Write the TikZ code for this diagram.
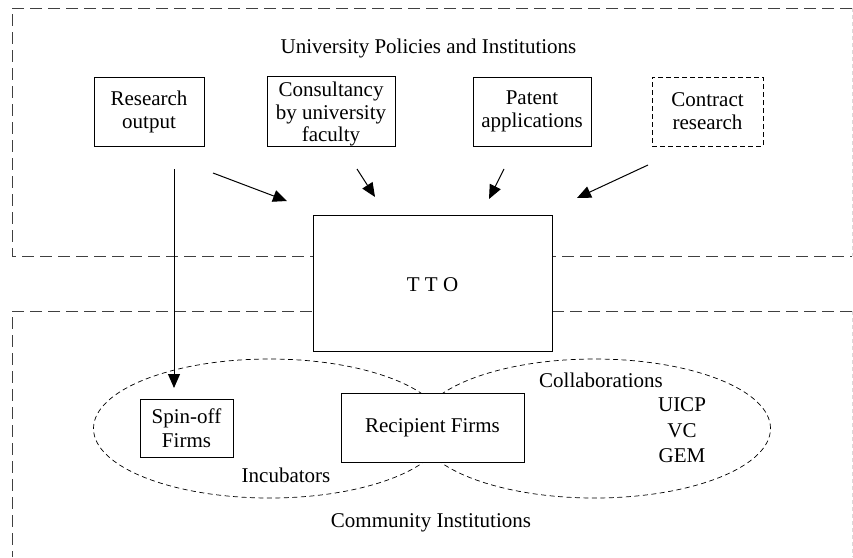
\documentclass[tikz,border=0pt]{standalone}
\usepackage{fontspec}
\setmainfont{Liberation Serif}
\usetikzlibrary{arrows.meta,shapes.geometric}
\begin{document}
\begin{tikzpicture}[x=1pt,y=-1pt,
  every node/.style={font=\fontsize{21}{23}\selectfont},
  region/.style={draw=black!75, line width=0.9pt, dash pattern=on 12pt off 6pt},
  faint/.style={draw=black!15, line width=0.8pt, dash pattern=on 4pt off 3pt},
  zone/.style={draw=black, line width=0.7pt, dash pattern=on 5pt off 3.5pt, ellipse, inner sep=0pt},
  box/.style={draw=black, line width=0.8pt, fill=white, align=center, inner sep=0pt},
  dbox/.style={box, dash pattern=on 5pt off 3pt},
  arr/.style={line width=1pt, -{Triangle[length=14pt,width=12pt]}},
  lbl/.style={inner sep=0pt, anchor=base, align=center}
]
\useasboundingbox (0,0) rectangle (853,557);

% regions
\draw[region] (852,8) -- (12,8) -- (12,256) -- (852,256);
\draw[faint] (852,8) -- (852,256);
\draw[region] (852,311) -- (12,311) -- (12,557);
\draw[faint] (852,311) -- (852,557);

% ellipses
\node[zone, minimum width=352pt, minimum height=139pt] (incub) at (269.5,428.5) {};
\node[zone, minimum width=352pt, minimum height=139pt] (collab) at (594.5,428.5) {};

% top boxes
\node[box, minimum width=110pt, minimum height=69pt] (research) at (149,111.5) {Research\\output};
\node[box, minimum width=128pt, minimum height=69pt] (consult) at (331,111.5) {\rule{0pt}{20pt}Consultancy\\[-0.5pt]by university\\[-0.5pt]faculty};
\node[box, minimum width=118pt, minimum height=69pt] (patent) at (532,111.5) {Patent\\applications};
\node[dbox, minimum width=111pt, minimum height=69pt] (contract) at (707.5,111.5) {Contract\\research};

% TTO
\node[box, minimum width=239pt, minimum height=136pt] (tto) at (432.5,283) {\rule{0pt}{18pt}T T O};

% bottom boxes
\node[box, minimum width=93pt, minimum height=58pt] (spinoff) at (186.5,428) {Spin-off\\[1pt]Firms};
\node[box, minimum width=183pt, minimum height=69pt] (recipient) at (432.5,427.5) {Recipient Firms};

% labels
\node[lbl] (univ) at (428.5,53.5) {University Policies and Institutions};
\node[lbl] (incubtxt) at (286,482) {Incubators};
\node[lbl] (community) at (431,527) {Community Institutions};
\node[lbl] (collabtxt) at (601,387) {Collaborations};
\node[lbl] (uicp) at (682,411) {UICP};
\node[lbl] (vc) at (682,437) {VC};
\node[lbl] (gem) at (682,462) {GEM};

% arrow endpoints
\coordinate (vs) at (174,169);
\coordinate (ve) at (174,388);
\coordinate (a1s) at (213,173);
\coordinate (a1e) at (287,201);
\coordinate (a2s) at (357,169);
\coordinate (a2e) at (375,197);
\coordinate (a3s) at (504,169);
\coordinate (a3e) at (489,199);
\coordinate (a4s) at (648,165);
\coordinate (a4e) at (577,198);

\draw[arr] (vs) -- (ve);
\draw[arr] (a1s) -- (a1e);
\draw[arr] (a2s) -- (a2e);
\draw[arr] (a3s) -- (a3e);
\draw[arr] (a4s) -- (a4e);
\end{tikzpicture}
\end{document}
